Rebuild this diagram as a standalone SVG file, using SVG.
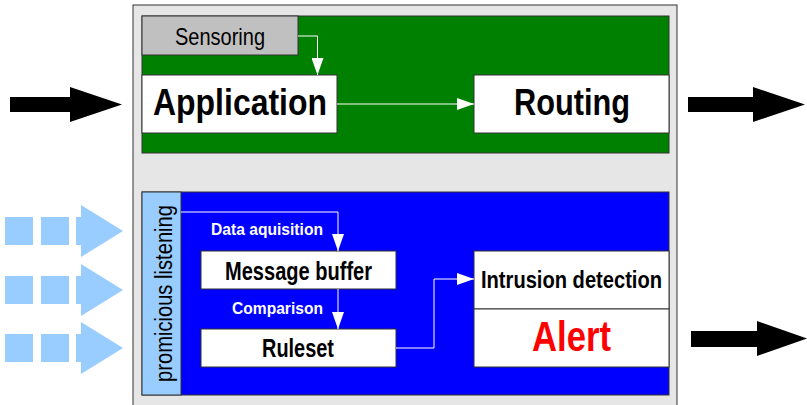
<svg xmlns="http://www.w3.org/2000/svg" width="807" height="405" viewBox="0 0 807 405">
<style>
.box{stroke:#333;stroke-width:1}
.w{fill:#fff}
.t{font-family:"Liberation Sans",Arial,sans-serif;font-weight:bold;fill:#000}
.n{font-family:"Liberation Sans",Arial,sans-serif;fill:#000}
.lbl{font-family:"Liberation Sans",Arial,sans-serif;font-weight:bold;fill:#fff}
.c{fill:none;stroke:#fff;stroke-width:1}
.lb{fill:#99ccff}
</style>
<defs>
<marker id="ah" markerWidth="17" markerHeight="12" refX="17" refY="6" viewBox="0 0 17 12" orient="auto" markerUnits="userSpaceOnUse">
<path d="M0,0 L17,6 L0,12 Z" fill="#fff"/>
</marker>
</defs>
<rect x="0" y="0" width="807" height="405" fill="#fff"/>
<g id="frame">
<rect x="133" y="5" width="544" height="410" fill="#e6e6e6" stroke="#333" stroke-width="1"/>
<rect x="142" y="16" width="527" height="137" fill="#008000" class="box"/>
<rect x="142" y="192" width="527" height="203" fill="#0000ff" class="box"/>
</g>
<g id="sensoring">
<rect x="142" y="16" width="156" height="39" fill="#c0c0c0" class="box"/>
<text class="n" x="175" y="45" font-size="24" textLength="90" lengthAdjust="spacingAndGlyphs">Sensoring</text>
</g>
<g id="application">
<rect x="142" y="75" width="195" height="58" class="box w"/>
<text class="t" x="153" y="115" font-size="36" textLength="174" lengthAdjust="spacingAndGlyphs">Application</text>
</g>
<g id="routing">
<rect x="474" y="75" width="195" height="58" class="box w"/>
<text class="t" x="514" y="115" font-size="36" textLength="116" lengthAdjust="spacingAndGlyphs">Routing</text>
</g>
<g id="listening">
<rect x="142" y="192" width="39" height="203" class="box lb"/>
<text class="n" transform="translate(172,293.5) rotate(-90)" text-anchor="middle" font-size="23" textLength="177" lengthAdjust="spacingAndGlyphs">promicious listening</text>
</g>
<g id="message-buffer">
<rect x="201" y="251" width="195" height="38" class="box w"/>
<text class="t" x="225" y="280" font-size="25" textLength="147" lengthAdjust="spacingAndGlyphs">Message buffer</text>
</g>
<g id="ruleset">
<rect x="201" y="329" width="195" height="38" class="box w"/>
<text class="t" x="262" y="357" font-size="25" textLength="72" lengthAdjust="spacingAndGlyphs">Ruleset</text>
</g>
<g id="intrusion-detection">
<rect x="474" y="251" width="195" height="58" class="box w"/>
<text class="t" x="481" y="288" font-size="23" textLength="181" lengthAdjust="spacingAndGlyphs">Intrusion detection</text>
</g>
<g id="alert">
<rect x="474" y="309" width="195" height="58" class="box w"/>
<text class="t" x="532" y="351" font-size="42" textLength="79" lengthAdjust="spacingAndGlyphs" style="fill:#ff0000">Alert</text>
</g>
<g id="connectors">
<polyline class="c" points="298,36 317.5,36 317.5,75" marker-end="url(#ah)" stroke="#e8e8e8"/>
<polyline class="c" points="337,104 474,104" marker-end="url(#ah)"/>
<polyline class="c" points="181,212 338,212 338,251" marker-end="url(#ah)"/>
<polyline class="c" points="338,289 338,329" marker-end="url(#ah)"/>
<polyline class="c" points="396,348 434,348 434,279 474,279" marker-end="url(#ah)" stroke="#e8e8e8"/>
<text class="lbl" x="211" y="235" font-size="17" textLength="112" lengthAdjust="spacingAndGlyphs">Data aquisition</text>
<text class="lbl" x="232" y="314" font-size="17" textLength="91" lengthAdjust="spacingAndGlyphs">Comparison</text>
</g>
<g id="io-arrows">
<polygon points="10,97 70,97 70,87 122,104.5 70,122 70,112 10,112" fill="#000"/>
<polygon points="688,97 753,97 753,87 805,104.5 753,122 753,112 688,112" fill="#000"/>
<polygon points="691,331 757,331 757,321 807,338.5 757,356 757,347 691,347" fill="#000"/>
<g class="lb">
<rect x="5" y="217" width="28" height="28"/><rect x="41" y="217" width="28" height="28"/><rect x="76" y="217" width="6" height="28"/>
<polygon points="81,205 123,231 81,257"/>
<rect x="5" y="276" width="28" height="28"/><rect x="41" y="276" width="28" height="28"/><rect x="76" y="276" width="6" height="28"/>
<polygon points="81,264 123,290 81,316"/>
<rect x="5" y="334" width="28" height="28"/><rect x="41" y="334" width="28" height="28"/><rect x="76" y="334" width="6" height="28"/>
<polygon points="81,322 123,348 81,374"/>
</g>
</g>
</svg>
